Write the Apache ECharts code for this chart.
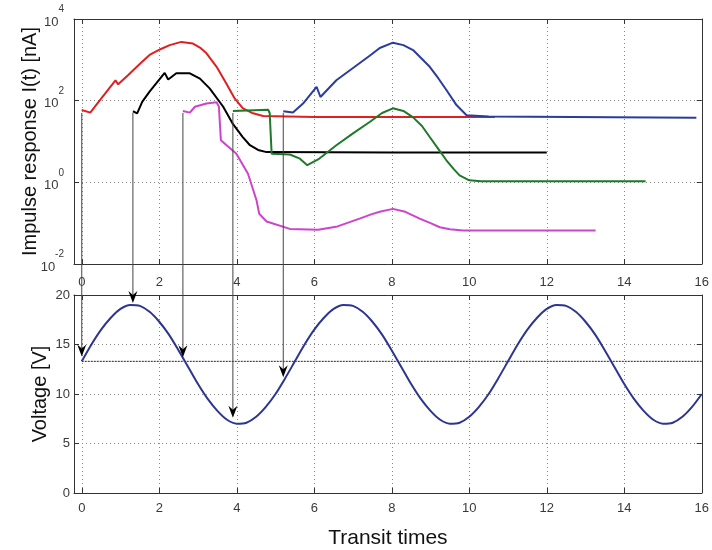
<!DOCTYPE html>
<html>
<head>
<meta charset="utf-8">
<title>Impulse response vs voltage</title>
<script src="https://cdn.jsdelivr.net/npm/echarts@6.0.0/dist/echarts.min.js"></script>
<style>
  html, body { margin: 0; padding: 0; background: #fff; }
  #main { width: 712px; height: 550px; }
</style>
</head>
<body>
<div id="main"></div>
<script>
// 刻度
var xTicks = [0, 2, 4, 6, 8, 10, 12, 14, 16];
var logTicks = [0.01, 1, 100, 10000];

// 上图: impulse response I(t) [nA]
var redX = [0, 0.22, 0.5, 0.87, 0.94, 1.2, 1.51, 1.75, 2.03, 2.27, 2.57, 2.87, 3.05, 3.22, 3.48, 3.73, 3.95, 4.16, 4.42, 4.68, 6, 8, 10.66];
var redY = [59, 51, 112, 316, 251, 427, 813, 1318, 1820, 2290, 2750, 2510, 2000, 1445, 676, 263, 112, 65, 49, 42, 40, 40, 40];

var blackX = [1.32, 1.43, 1.56, 1.75, 2.14, 2.23, 2.44, 2.79, 3.05, 3.3, 3.65, 3.9, 4.15, 4.34, 4.55, 4.77, 8, 12];
var blackY = [55, 49, 93, 166, 479, 331, 468, 468, 347, 200, 71, 27, 13, 8.1, 6.2, 5.5, 5.4, 5.4];

var magentaX = [2.61, 2.79, 2.92, 3.22, 3.48, 3.54, 3.59, 3.99, 4.29, 4.51, 4.58, 4.77, 5.37, 6.1, 6.6, 7.17, 7.45, 7.69, 8.03, 8.35, 8.72, 9.0, 9.24, 9.5, 9.84, 13.26];
var magentaY = [56, 51, 71, 85, 91, 71, 10.7, 5.0, 1.62, 0.363, 0.17, 0.11, 0.0724, 0.0692, 0.0832, 0.129, 0.162, 0.19, 0.224, 0.19, 0.129, 0.1, 0.0794, 0.0708, 0.066, 0.066];

var greenX = [3.9, 4.81, 4.85, 4.9, 5.37, 5.63, 5.82, 6.1, 6.57, 7.0, 7.43, 7.75, 8.03, 8.3, 8.55, 8.78, 8.98, 9.2, 9.41, 9.6, 9.75, 10.0, 10.3, 12, 14.55];
var greenY = [56, 60, 50, 5.0, 4.8, 3.8, 2.63, 3.63, 8.1, 15.8, 30, 50, 65, 56, 39, 24, 12.9, 6.6, 3.47, 2.1, 1.48, 1.12, 1.07, 1.07, 1.07];

var blueX = [5.2, 5.45, 5.71, 6.06, 6.16, 6.57, 7.0, 7.43, 7.69, 8.03, 8.3, 8.55, 8.98, 9.2, 9.41, 9.67, 9.93, 10.5, 15.86];
var blueY = [55, 51, 85, 219, 123, 316, 631, 1259, 1950, 2630, 2290, 1738, 676, 355, 182, 78, 44, 41, 38];

// 下图: voltage [V]
var voltX = [0, 0.25, 0.5, 0.75, 1, 1.25, 1.5, 1.75, 2, 2.25, 2.5, 2.75, 3, 3.25, 3.5, 3.75, 4, 4.25, 4.5, 4.75, 5, 5.25,
  5.5, 5.75, 6, 6.25, 6.5, 6.75, 7, 7.25, 7.5, 7.75, 8, 8.25, 8.5, 8.75, 9, 9.25, 9.5, 9.75, 10, 10.25, 10.5, 10.75,
  11, 11.25, 11.5, 11.75, 12, 12.25, 12.5, 12.75, 13, 13.25, 13.5, 13.75, 14, 14.25, 14.5, 14.75, 15, 15.25, 15.5, 15.75, 16];
var voltY = [13.3, 15.0, 16.5, 17.7, 18.6, 19.0, 18.9, 18.3, 17.3, 16.0, 14.4, 12.7, 11.0, 9.5, 8.3, 7.4, 7.0, 7.1, 7.7, 8.7, 10.0, 11.6,
  13.3, 15.0, 16.5, 17.7, 18.6, 19.0, 18.9, 18.3, 17.3, 16.0, 14.4, 12.7, 11.0, 9.5, 8.3, 7.4, 7.0, 7.1, 7.7, 8.7, 10.0, 11.6,
  13.3, 15.0, 16.5, 17.7, 18.6, 19.0, 18.9, 18.3, 17.3, 16.0, 14.4, 12.7, 11.0, 9.5, 8.3, 7.4, 7.0, 7.1, 7.7, 8.7, 10.0];
var refX = [0, 16];
var refY = [13.3, 13.3];

// 箭头: from the start of each response down to the voltage curve
var arrowX = [0, 1.32, 2.61, 3.9, 5.2];
var arrowFrom = [50, 50, 50, 50, 50];
var arrowTo = [13.8, 19.2, 13.7, 7.6, 11.7];

function zip(xs, ys) {
  return xs.map(function (x, i) { return [x, ys[i]]; });
}

var labelColor = "#3a3a3a";
var font = "Liberation Sans, Arial, sans-serif";
var gridLine = { show: true, lineStyle: { color: "#8a8a8a", type: [1, 3], width: 1 } };
var boxLine = { show: true, onZero: false, lineStyle: { color: "#333", width: 1 } };

function xAxisOf(grid, pos, showLabel, margin) {
  return {
    type: "value",
    gridIndex: grid,
    position: pos,
    min: -0.2,
    max: 16,
    axisLine: boxLine,
    axisTick: { show: true, inside: true, length: 5, customValues: xTicks, lineStyle: { color: "#333" } },
    axisLabel: { show: showLabel, customValues: xTicks, color: labelColor, fontSize: 13, fontFamily: font, margin: margin },
    splitLine: pos === "bottom" ? gridLine : { show: false },
  };
}

var myChart = echarts.init(document.getElementById("main"));

var option = {
  animation: false,
  backgroundColor: "#fff",
  grid: [
    { left: 74, top: 19, right: 9, height: 245 },
    { left: 74, top: 295, right: 9, height: 198 },
  ],
  xAxis: [
    xAxisOf(0, "bottom", true, 12),
    Object.assign(xAxisOf(1, "bottom", true, 9), {
      name: "Transit times",
      nameLocation: "middle",
      nameGap: 35,
      nameTextStyle: { fontSize: 21, color: "#111", fontFamily: font },
    }),
    xAxisOf(0, "top", false, 0),
    xAxisOf(1, "top", false, 0),
  ],
  yAxis: [
    {
      type: "log",
      gridIndex: 0,
      logBase: 10,
      min: 0.01,
      max: 10000,
      name: "Impulse response I(t) [nA]",
      nameLocation: "middle",
      nameGap: 34,
      nameMoveOverlap: false,
      nameTextStyle: { fontSize: 20, color: "#111", fontFamily: font },
      axisLine: boxLine,
      axisTick: { show: true, inside: true, length: 5, customValues: logTicks, lineStyle: { color: "#333" } },
      axisLabel: {
        customValues: logTicks,
        margin: 10,
        padding: [0, 0, 5, 0],
        formatter: function (v) {
          return "{b|10}{s|" + Math.round(Math.log10(v)) + "}";
        },
        rich: {
          b: { fontSize: 13, color: labelColor, fontFamily: font, lineHeight: 24, verticalAlign: "bottom" },
          s: { fontSize: 10, color: labelColor, fontFamily: font, lineHeight: 24, verticalAlign: "top" },
        },
      },
      splitLine: gridLine,
      minorTick: { show: false },
    },
    {
      type: "value",
      gridIndex: 1,
      min: 0,
      max: 20,
      interval: 5,
      name: "Voltage [V]",
      nameLocation: "middle",
      nameGap: 24,
      nameMoveOverlap: false,
      nameTextStyle: { fontSize: 20, color: "#111", fontFamily: font },
      axisLine: boxLine,
      axisTick: { show: true, inside: true, length: 5, lineStyle: { color: "#333" } },
      axisLabel: { color: labelColor, fontSize: 13, fontFamily: font, margin: 4 },
      splitLine: gridLine,
    },
    {
      type: "log",
      gridIndex: 0,
      position: "right",
      logBase: 10,
      min: 0.01,
      max: 10000,
      axisLine: boxLine,
      axisTick: { show: true, inside: true, length: 5, customValues: logTicks, lineStyle: { color: "#333" } },
      axisLabel: { show: false, customValues: logTicks },
      splitLine: { show: false },
    },
    {
      type: "value",
      gridIndex: 1,
      position: "right",
      min: 0,
      max: 20,
      interval: 5,
      axisLine: boxLine,
      axisTick: { show: true, inside: true, length: 5, lineStyle: { color: "#333" } },
      axisLabel: { show: false },
      splitLine: { show: false },
    },
  ],
  series: [
    { name: "red", type: "line", xAxisIndex: 0, yAxisIndex: 0, data: zip(redX, redY), showSymbol: false, lineStyle: { color: "#e02020", width: 2 } },
    { name: "black", type: "line", xAxisIndex: 0, yAxisIndex: 0, data: zip(blackX, blackY), showSymbol: false, lineStyle: { color: "#000", width: 2 } },
    { name: "magenta", type: "line", xAxisIndex: 0, yAxisIndex: 0, data: zip(magentaX, magentaY), showSymbol: false, lineStyle: { color: "#cc44cc", width: 2 } },
    { name: "green", type: "line", xAxisIndex: 0, yAxisIndex: 0, data: zip(greenX, greenY), showSymbol: false, lineStyle: { color: "#1e7a2a", width: 2 } },
    { name: "blue", type: "line", xAxisIndex: 0, yAxisIndex: 0, data: zip(blueX, blueY), showSymbol: false, lineStyle: { color: "#2b3c9c", width: 2 } },
    { name: "ref", type: "line", xAxisIndex: 1, yAxisIndex: 1, data: zip(refX, refY), showSymbol: false, lineStyle: { color: "#222", width: 1, type: [2, 1] } },
    { name: "voltage", type: "line", xAxisIndex: 1, yAxisIndex: 1, data: zip(voltX, voltY), showSymbol: false, smooth: 0.3, lineStyle: { color: "#2e3590", width: 2 } },
  ],
};

myChart.setOption(option);

// 箭头 (graphic, positioned through the axes)
function drawArrows() {
  var els = [];
  arrowX.forEach(function (x, i) {
    var p0 = myChart.convertToPixel({ xAxisIndex: 0, yAxisIndex: 0 }, [x, arrowFrom[i]]);
    var p1 = myChart.convertToPixel({ xAxisIndex: 1, yAxisIndex: 1 }, [x, arrowTo[i]]);
    els.push({
      type: "line",
      shape: { x1: p0[0], y1: p0[1], x2: p1[0], y2: p1[1] - 8 },
      style: { stroke: "#444", lineWidth: 1 },
      z: 100,
    });
    els.push({
      type: "polygon",
      shape: { points: [[p1[0] - 4.5, p1[1] - 12], [p1[0], p1[1] - 8], [p1[0] + 4.5, p1[1] - 12], [p1[0], p1[1]]] },
      style: { fill: "#000" },
      z: 100,
    });
  });
  myChart.setOption({ graphic: els });
}
drawArrows();

window.addEventListener("resize", function () {
  myChart.resize();
  drawArrows();
});
</script>
</body>
</html>
